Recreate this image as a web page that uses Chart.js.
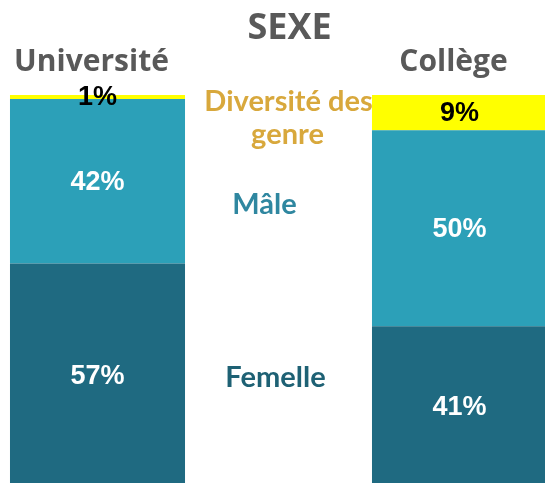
<!DOCTYPE html>
<html>
<head>
<meta charset="utf-8">
<script src="https://cdn.jsdelivr.net/npm/chart.js@4"></script>
<style>
  html, body { margin: 0; padding: 0; background: #fff; overflow: hidden; }
  #wrap { width: 550px; height: 487px; }
</style>
</head>
<body>
<div id="wrap"><canvas id="chartSexe"></canvas></div>
<script>
// data
var categories = ['Université', 'Collège'];
var femelle = [57, 41];
var male = [42, 50];
var diversite = [1, 9];

var seriesNames = ['Femelle', 'Mâle', 'Diversité des genre'];
var chartTitle = 'SEXE';

// middle slot is left empty, the series names are written there
var labels = [categories[0], '', categories[1]];
function spread(arr) { return [arr[0], null, arr[1]]; }

// writes the % value in each segment
const valueLabels = {
    id: 'valueLabels',
    afterDatasetsDraw: function (chart) {
        const ctx = chart.ctx;
        ctx.save();
        ctx.font = 'bold 27px "Liberation Sans", Arial, sans-serif';
        ctx.textAlign = 'center';
        ctx.textBaseline = 'middle';
        chart.data.datasets.forEach(function (ds, i) {
            const meta = chart.getDatasetMeta(i);
            meta.data.forEach(function (bar, j) {
                const v = ds.data[j];
                if (v == null) return;
                ctx.fillStyle = ds.labelColor;
                ctx.fillText(v + '%', bar.x, (bar.y + bar.base) / 2 + 1);
            });
        });
        ctx.restore();
    }
};

// series names in the middle gap + the title
const sideNames = {
    id: 'sideNames',
    afterDatasetsDraw: function (chart) {
        const ctx = chart.ctx;
        const y = chart.scales.y;
        const xc = chart.scales.x.getPixelForValue(1);
        const items = [
            { text: 'Diversité des', at: 98.4, dx: 10, color: '#D8A83C' },
            { text: 'genre', at: 90.0, dx: 9, color: '#D8A83C' },
            { text: seriesNames[1], at: 72.0, dx: -14, color: '#2F87A0' },
            { text: seriesNames[0], at: 27.8, dx: -3, color: '#1E6174' }
        ];
        ctx.save();
        ctx.font = 'bold 29px Lato, sans-serif';
        ctx.textAlign = 'center';
        ctx.textBaseline = 'middle';
        items.forEach(function (it) {
            ctx.fillStyle = it.color;
            ctx.fillText(it.text, xc + it.dx, y.getPixelForValue(it.at));
        });

        ctx.font = 'bold 36px "Open Sans", sans-serif';
        ctx.textBaseline = 'alphabetic';
        ctx.fillStyle = '#595959';
        ctx.fillText(chartTitle, xc + 11, 39);
        ctx.restore();
    }
};

const ctx = document.getElementById('chartSexe').getContext('2d');
const myChart = new Chart(ctx, {
    type: 'bar',
    data: {
        labels: labels,
        datasets: [{
            label: seriesNames[0],
            data: spread(femelle),
            backgroundColor: '#1F6A81',
            labelColor: '#ffffff'
        }, {
            label: seriesNames[1],
            data: spread(male),
            backgroundColor: '#2CA0B8',
            labelColor: '#ffffff'
        }, {
            label: seriesNames[2],
            data: spread(diversite),
            backgroundColor: '#FFFF00',
            labelColor: '#000000'
        }]
    },
    options: {
        responsive: true,
        maintainAspectRatio: false,
        animation: false,
        layout: { padding: { left: 7, right: 0, top: 44, bottom: 0 } },
        datasets: {
            bar: { categoryPercentage: 1, barPercentage: 0.967, borderWidth: 0 }
        },
        scales: {
            x: {
                position: 'top',
                stacked: true,
                grid: { display: false, tickLength: 15 },
                border: { display: false },
                ticks: {
                    color: '#595959',
                    padding: 0,
                    labelOffset: -6,
                    font: { family: '"Open Sans", sans-serif', size: 30, weight: 'bold' }
                }
            },
            y: {
                display: false,
                stacked: true,
                min: 0,
                max: 100
            }
        },
        plugins: {
            legend: { display: false },
            tooltip: { enabled: false },
            title: { display: false }
        }
    },
    plugins: [valueLabels, sideNames]
});
</script>
</body>
</html>
